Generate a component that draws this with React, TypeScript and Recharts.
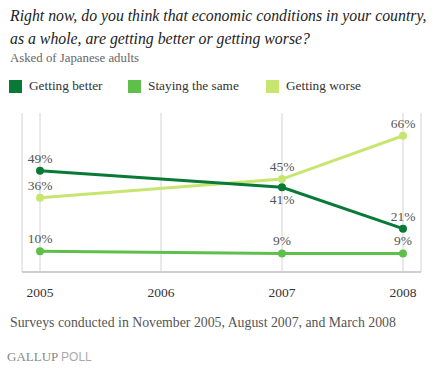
import { LineChart, Line, XAxis, YAxis, CartesianGrid, LabelList } from 'recharts';

const years = [2005, 2007, 2008];
const betterValues = [49, 41, 21];
const sameValues = [10, 9, 9];
const worseValues = [36, 45, 66];
const tickYears = [2005, 2006, 2007, 2008];

const data = years.map((year, i) => ({
  year,
  better: betterValues[i],
  same: sameValues[i],
  worse: worseValues[i],
}));

const DARK = '#087a36';
const MID = '#5ebf4b';
const LIGHT = '#c7e670';
const serif = '"Liberation Serif", "DejaVu Serif", serif';

function makeLabel(belowIdx: number[]) {
  return (props: any) => {
    const { x, y, value, index } = props;
    const below = belowIdx.includes(index);
    return (
      <text
        x={x}
        y={below ? y + 17 : y - 8}
        textAnchor="middle"
        fill="#555"
        fontSize={13.5}
        fontFamily={serif}
      >
        {value}%
      </text>
    );
  };
}

const legendItems = [
  { name: 'Getting better', color: DARK, x: 9 },
  { name: 'Staying the same', color: MID, x: 128 },
  { name: 'Getting worse', color: LIGHT, x: 266 },
];

export default function App() {
  return (
    <div style={{ position: 'absolute', left: 0, top: 0, width: 434, height: 368, background: '#fff', fontFamily: serif }}>
      <div style={{ position: 'absolute', left: 10, top: 4, fontSize: 15.8, fontStyle: 'italic', lineHeight: '23px', color: '#222', width: 430, whiteSpace: 'nowrap' }}>
        Right now, do you think that economic conditions in your country,
        <br />
        as a whole, are getting better or getting worse?
      </div>
      <div style={{ position: 'absolute', left: 10, top: 51, fontSize: 12.8, color: '#666' }}>Asked of Japanese adults</div>
      {legendItems.map((it) => (
        <div key={it.name} style={{ position: 'absolute', left: it.x, top: 78, display: 'flex', alignItems: 'center' }}>
          <div style={{ width: 13, height: 13, background: it.color, marginRight: 7 }} />
          <span style={{ fontSize: 13.3, color: '#333' }}>{it.name}</span>
        </div>
      ))}
      <div style={{ position: 'absolute', left: 0, top: 100 }}>
        <LineChart width={434} height={210} data={data} margin={{ top: 13, right: 13, left: 22, bottom: 8 }}>
          <CartesianGrid horizontal={false} stroke="#d4d4d4" />
          <XAxis
            dataKey="year"
            type="number"
            domain={[2005, 2008]}
            ticks={tickYears}
            padding={{ left: 18, right: 18 }}
            axisLine={{ stroke: '#cfcfcf', strokeWidth: 2 }}
            tickLine={false}
            tickMargin={9}
            tick={{ fill: '#333', fontSize: 13.5, fontFamily: serif }}
            height={30}
          />
          <YAxis hide domain={[0, 77]} />
          <Line dataKey="same" stroke={MID} strokeWidth={3} dot={{ r: 2.5, fill: MID, stroke: MID }} isAnimationActive={false}>
            <LabelList dataKey="same" content={makeLabel([])} />
          </Line>
          <Line dataKey="worse" stroke={LIGHT} strokeWidth={3} dot={{ r: 2.5, fill: LIGHT, stroke: LIGHT }} isAnimationActive={false}>
            <LabelList dataKey="worse" content={makeLabel([])} />
          </Line>
          <Line dataKey="better" stroke={DARK} strokeWidth={3} dot={{ r: 2.5, fill: DARK, stroke: DARK }} isAnimationActive={false}>
            <LabelList dataKey="better" content={makeLabel([1])} />
          </Line>
        </LineChart>
      </div>
      <div style={{ position: 'absolute', left: 10, top: 315, fontSize: 13.8, color: '#555', whiteSpace: 'nowrap' }}>
        Surveys conducted in November 2005, August 2007, and March 2008
      </div>
      <div style={{ position: 'absolute', left: 7, top: 349, fontSize: 13, color: '#888' }}>
        <span style={{ fontFamily: serif }}>GALLUP</span>{' '}
        <span style={{ fontFamily: 'Arial, "Liberation Sans", sans-serif', color: '#aaa', fontSize: 12 }}>POLL</span>
      </div>
    </div>
  );
}
